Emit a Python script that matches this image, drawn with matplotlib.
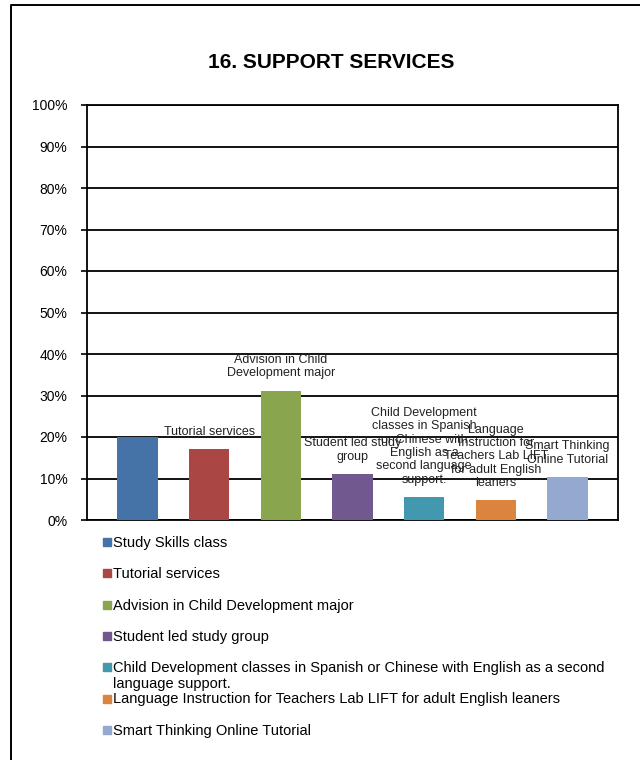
import textwrap
import matplotlib
matplotlib.use("Agg")
from matplotlib import pyplot as plt
from matplotlib.lines import Line2D
from matplotlib.patches import Rectangle
from matplotlib.ticker import PercentFormatter

plt.rcParams['font.family'] = ['Liberation Sans', 'DejaVu Sans']

title = "16. SUPPORT SERVICES"
services = [
    "Study Skills class",
    "Tutorial services",
    "Advision in Child Development major",
    "Student led study group",
    "Child Development classes in Spanish or Chinese with English as a second language support.",
    "Language Instruction for Teachers Lab LIFT for adult English leaners",
    "Smart Thinking Online Tutorial",
]
shares = [0.200, 0.172, 0.312, 0.111, 0.056, 0.048, 0.104]
show_label = [False, True, True, True, True, True, True]
colors = ['#4572A7', '#AA4643', '#89A54E', '#71588F', '#4198AF', '#DB843D', '#93A9CF']

fig = plt.figure(figsize=(6.4, 7.6), dpi=100)
ax = fig.add_axes([87 / 640, 1 - 520 / 760, 531 / 640, 415 / 760])

x = range(len(services))
ax.bar(x, shares, width=0.56, color=colors, zorder=3)

for i, (name, val) in enumerate(zip(services, shares)):
    if not show_label[i]:
        continue
    ax.annotate(textwrap.fill(name, 18), (i, val), xytext=(0, 8),
                textcoords='offset points', ha='center', va='bottom',
                fontsize=9, color='#222222', linespacing=1.15, zorder=4)

ax.set_xlim(-0.705, 6.705)
ax.set_ylim(0, 1)
ax.set_yticks([i / 10 for i in range(11)])
ax.yaxis.set_major_formatter(PercentFormatter(1.0, decimals=0))
ax.set_xticks([])
ax.tick_params(axis='y', direction='out', length=4, width=1.2, pad=10,
               labelsize=10, colors='black')
ax.grid(axis='y', color='black', linewidth=1.3, zorder=1)
for s in ax.spines.values():
    s.set_linewidth(1.3)
    s.set_color('black')

fig.text(331 / 640, 1 - 63 / 760, title, ha='center', va='center',
         fontsize=15, fontweight='bold')

# legend, fixed row step like the original
for i, (name, c) in enumerate(zip(services, colors)):
    yc = 542 + i * 31.3
    fig.patches.append(Rectangle((103 / 640, 1 - (yc + 4) / 760), 8 / 640, 8 / 760,
                                 transform=fig.transFigure, color=c))
    fig.text(113 / 640, 1 - (yc - 6) / 760, textwrap.fill(name, 73),
             ha='left', va='top', fontsize=10.5, linespacing=1.15)

# outer frame (left and top only)
fig.add_artist(Line2D([11 / 640, 11 / 640, 1], [0, 1 - 5 / 760, 1 - 5 / 760],
                      transform=fig.transFigure, color='black', linewidth=1.4))

fig.savefig("out.png", dpi=100)
